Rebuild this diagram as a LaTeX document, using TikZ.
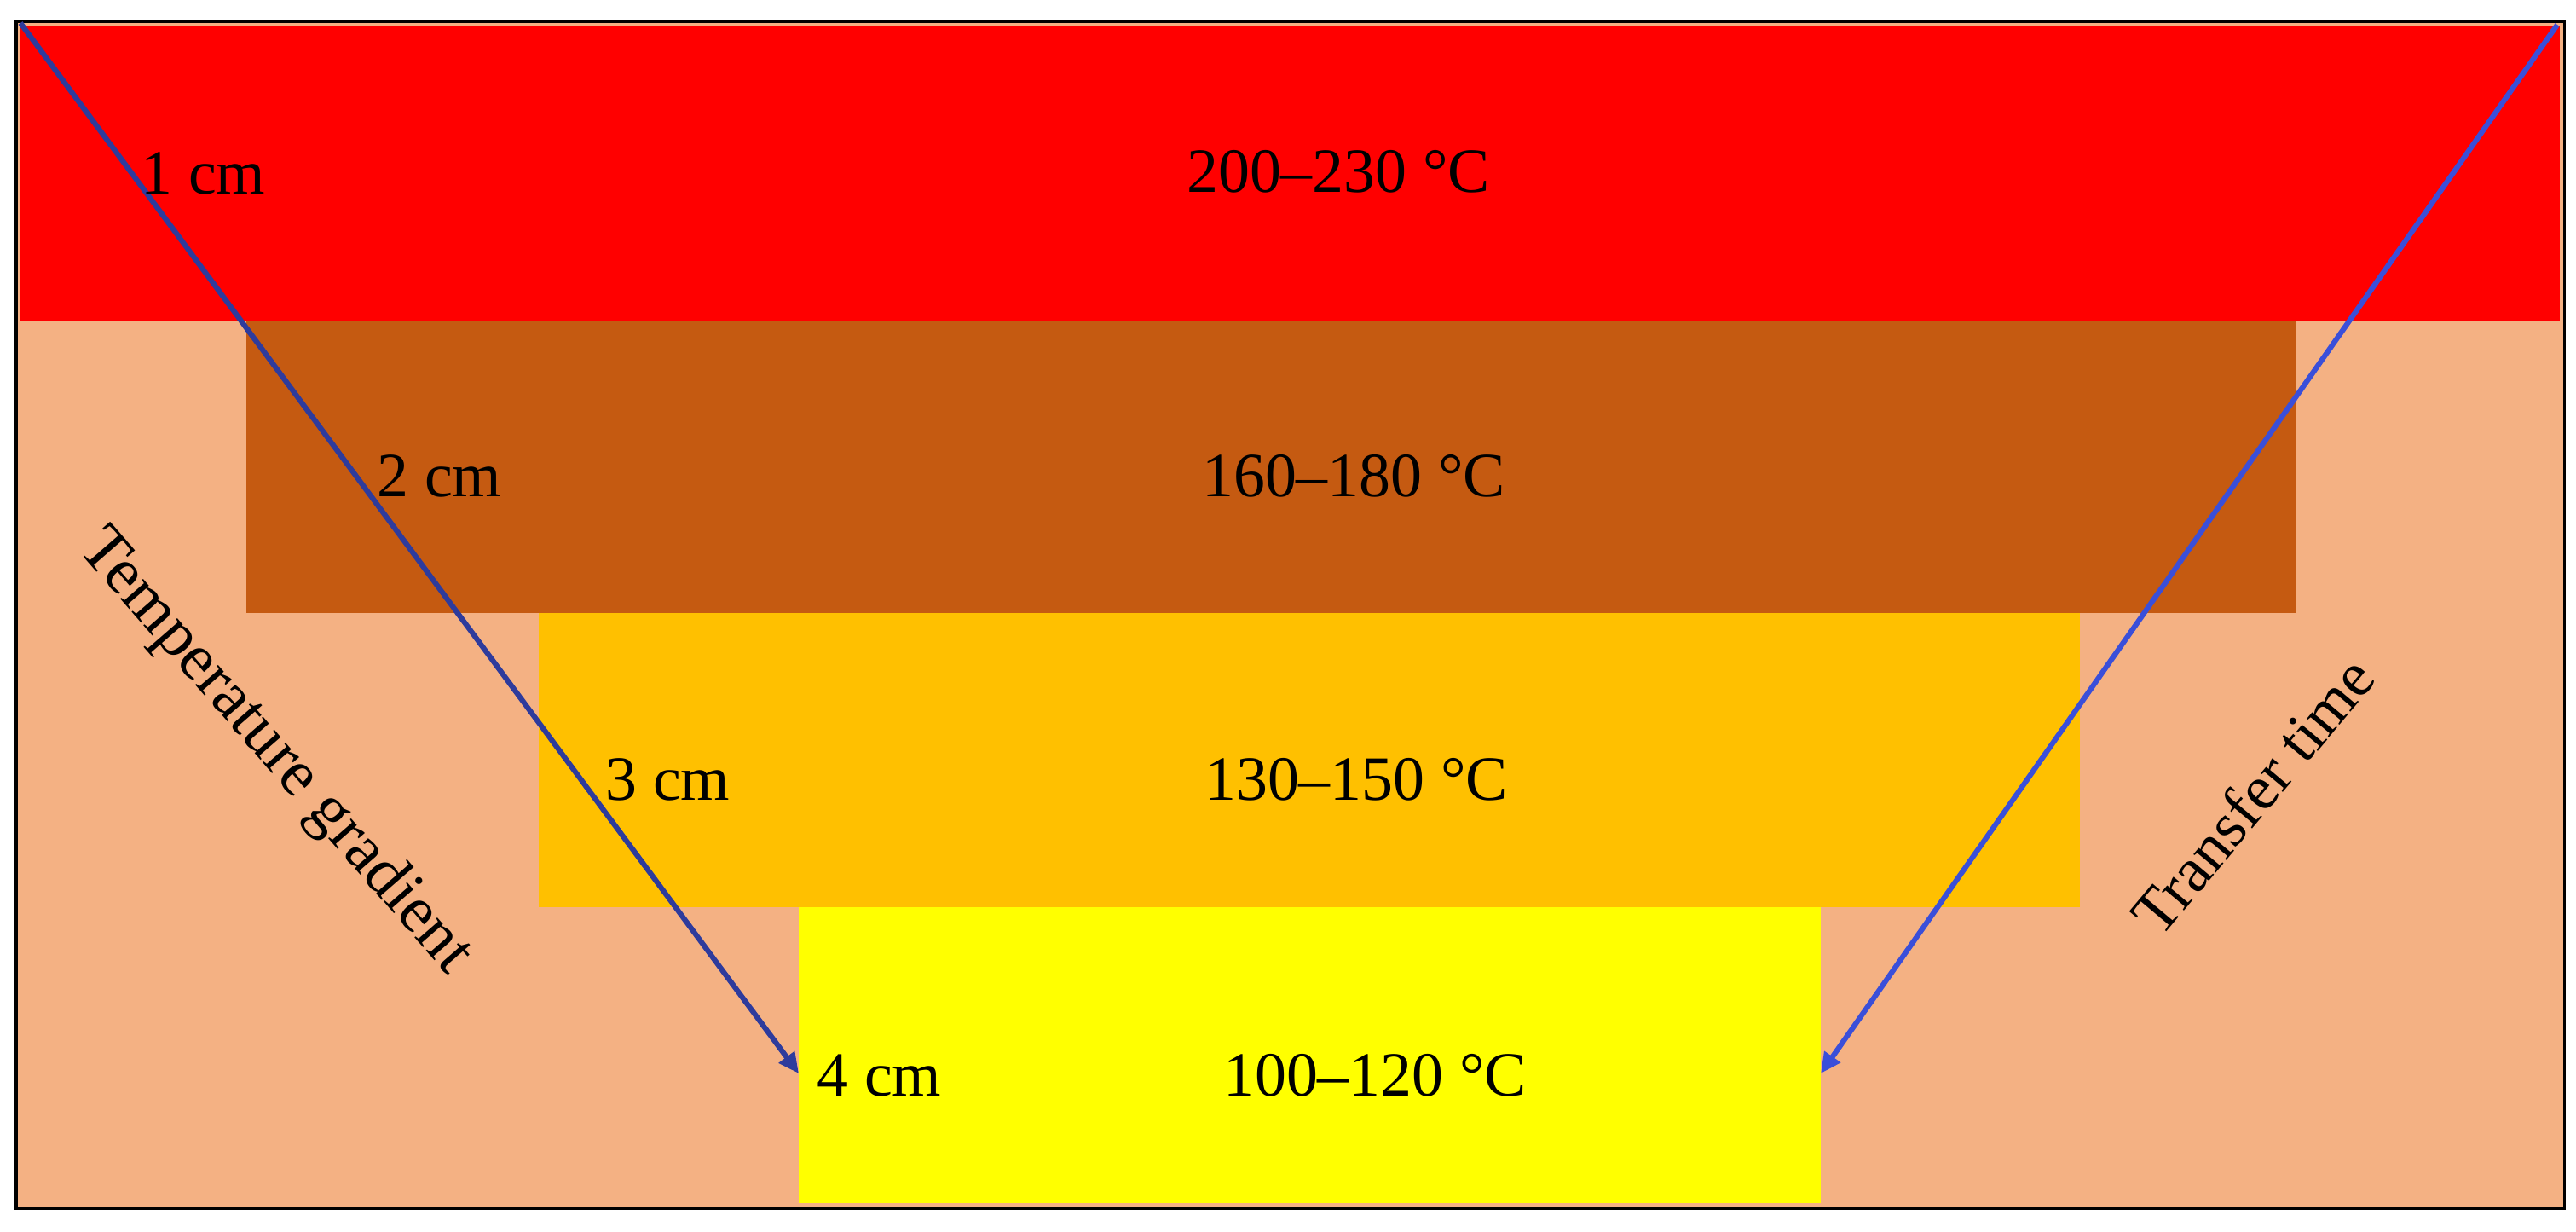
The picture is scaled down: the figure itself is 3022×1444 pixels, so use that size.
\documentclass[tikz,border=0pt]{standalone}
\usepackage{fontspec}
\setmainfont{Liberation Serif}
\usetikzlibrary{arrows.meta}
\definecolor{peach}{HTML}{F4B183}
\definecolor{bandred}{HTML}{FF0000}
\definecolor{bandbrown}{HTML}{C55A11}
\definecolor{bandorange}{HTML}{FFC000}
\definecolor{bandyellow}{HTML}{FFFF00}
\definecolor{arrowdark}{HTML}{2E3B9C}
\definecolor{arrowlight}{HTML}{3A4FD9}
\tikzset{
  lbl/.style={inner sep=0pt, font=\fontsize{21}{25}\selectfont, text=black},
  cmlbl/.style={lbl, anchor=base west},
  templbl/.style={lbl, anchor=base},
  arr/.style={line width=0.062cm, -{Triangle[length=0.24cm,width=0.22cm]}},
}
\begin{document}
\begin{tikzpicture}[x=0.01cm,y=-0.01cm]
\useasboundingbox (0,0) rectangle (3022,1444);
\fill[white] (0,0) rectangle (3022,1444);
% frame and background
\draw[fill=peach, line width=0.03cm] (19,25) rectangle (3008,1417);
% bands
\fill[bandred] (24,31) rectangle (3003,377);
\fill[bandbrown] (289,377) rectangle (2694,719);
\fill[bandorange] (632,719) rectangle (2440,1064);
\fill[bandyellow] (937,1064) rectangle (2136,1411);
% arrow end points
\coordinate (tl) at (24,27);
\coordinate (tr) at (3000,29);
\coordinate (bl) at (937,1259);
\coordinate (br) at (2136,1259);
\draw[arr, arrowdark] (tl) -- (bl);
\draw[arr, arrowlight] (tr) -- (br);
% depth labels
\node[cmlbl] (c1) at (165,227) {1 cm};
\node[cmlbl] (c2) at (442,582) {2 cm};
\node[cmlbl] (c3) at (710,938) {3 cm};
\node[cmlbl] (c4) at (958,1285) {4 cm};
% temperature labels
\node[templbl] (t1) at (1570,225) {200–230 °C};
\node[templbl] (t2) at (1588,582) {160–180 °C};
\node[templbl] (t3) at (1591,938) {130–150 °C};
\node[templbl] (t4) at (1613,1285) {100–120 °C};
% rotated labels
\node[lbl, font=\fontsize{22}{26}\selectfont, rotate=-49] (grad) at (322,882) {Temperature gradient};
\node[lbl, rotate=50] (time) at (2642,933) {Transfer time};
\end{tikzpicture}
\end{document}
